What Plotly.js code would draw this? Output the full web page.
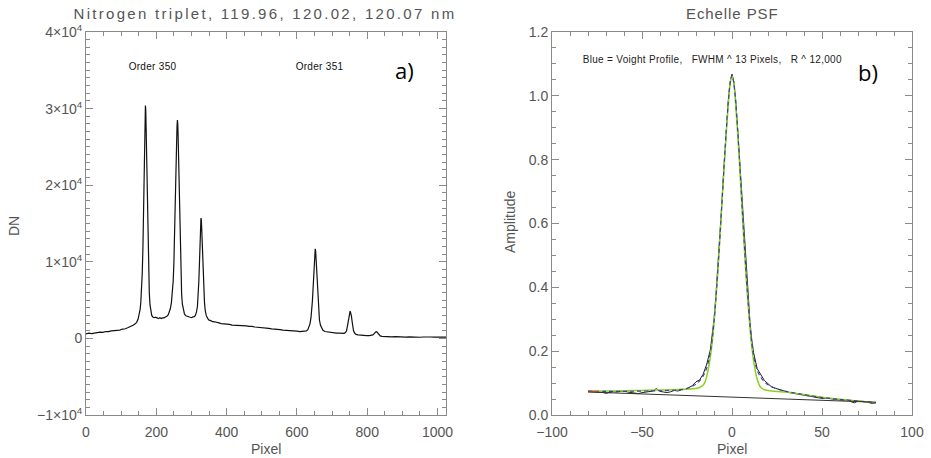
<!DOCTYPE html>
<html>
<head>
<meta charset="utf-8">
<script src="https://cdn.plot.ly/plotly-3.0.1.min.js"></script>
<style>
html,body{margin:0;padding:0;background:#fff;}
#chart{width:931px;height:458px;}
g.annotation[data-index="0"] text{letter-spacing:2.3px;}
g.annotation[data-index="1"] text{letter-spacing:0.9px;}
g.annotation[data-index="6"] text, g.annotation[data-index="7"] text, g.annotation[data-index="10"] text{letter-spacing:0.3px;}
</style>
</head>
<body>
<div id="chart"></div>
<script>
// ---- Panel a) : Nitrogen triplet spectrum ----
const specPixel = [0,8,16,24,32,40,48,56,64,72,80,88,96,104,112,120,128,134,140,144,148,151,154,156,158,160,162,164,166,168,169,170,171,172,174,176,178,180,182,184,187,190,194,198,202,206,210,214,218,222,226,230,234,237,240,243,246,248,250,252,254,256,258,259,260,261,262,264,266,268,270,272,274,277,280,284,288,292,296,300,304,308,311,314,317,319,321,323,325,326,327,328,329,331,333,335,337,339,342,346,350,355,360,366,372,378,385,392,400,408,416,424,432,440,448,456,464,472,480,488,496,504,512,520,528,536,544,552,560,568,576,584,592,600,608,616,622,627,631,634,637,640,642,644,646,648,650,651,652,653,654,656,658,660,662,664,667,670,674,680,688,696,704,712,720,728,734,738,741,743,745,747,749,751,752,753,755,757,759,761,764,768,774,782,790,798,806,812,816,819,822,825,827,830,833,837,842,850,860,870,880,890,900,910,920,930,940,950,960,970,980,990,1000,1010,1024];
const specDN = [600,680,620,740,760,830,800,900,880,980,1000,1080,1090,1220,1260,1420,1540,1720,1900,2100,2500,3000,3800,4800,6300,8500,12000,17000,22500,28000,30400,29800,27500,24500,18500,13000,8800,6000,4400,3500,3000,2800,2700,2760,2620,2580,2700,2590,2680,2680,2800,2880,3100,3400,3900,4700,6000,7500,9800,13000,17000,21500,26000,27800,28500,28000,26500,22000,16500,11500,8000,5800,4500,3600,3200,2950,2880,2780,2790,2700,2800,2830,3000,3400,4200,5500,7500,10200,13200,14800,15700,15500,14500,11800,8800,6300,4700,3700,3000,2620,2380,2320,2180,2170,2060,2020,1930,1920,1830,1820,1740,1730,1690,1700,1620,1630,1560,1580,1490,1470,1400,1400,1320,1300,1240,1230,1160,1140,1080,1070,1010,1000,950,940,890,910,930,980,1150,1450,1900,2700,3600,4900,6600,8600,10400,11200,11700,11500,10800,8800,6600,4700,3300,2400,1700,1300,1050,900,830,770,760,690,680,630,660,760,1000,1450,2100,2800,3300,3500,3480,3350,2900,2200,1500,1000,700,520,450,400,400,350,370,380,450,600,780,880,850,660,470,330,270,230,250,190,230,190,220,170,200,160,200,150,180,140,180,160,170,150,170];
const specYTicks = [-10000,0,10000,20000,30000,40000];
const specYText = ["\u22121\u00d710<sup>4</sup>","0","1\u00d710<sup>4</sup>","2\u00d710<sup>4</sup>","3\u00d710<sup>4</sup>","4\u00d710<sup>4</sup>"];
const specXTicks = [0,200,400,600,800,1000];

// ---- Panel b) : Echelle PSF ----
const psfX = [-80,-78,-76,-74,-72,-70,-68,-66,-64,-62,-60,-58,-56,-54,-52,-50,-48,-46,-44,-42,-40,-38,-36,-34,-32,-30,-28,-26,-24,-22,-20,-18,-16,-14,-12,-11,-10,-9,-8,-7,-6,-5,-4,-3,-2,-1,0,1,2,3,4,5,6,7,8,9,10,11,12,14,16,18,20,22,24,26,28,30,32,34,36,38,40,42,44,46,48,50,52,54,56,58,60,62,64,66,68,70,72,74,76,78,80];
const psfData = [0.074,0.073,0.072,0.073,0.071,0.068,0.070,0.073,0.072,0.075,0.076,0.072,0.071,0.069,0.067,0.070,0.072,0.074,0.075,0.083,0.074,0.072,0.070,0.073,0.077,0.075,0.079,0.080,0.085,0.092,0.104,0.110,0.128,0.160,0.205,0.25,0.30,0.37,0.45,0.54,0.63,0.73,0.83,0.92,0.99,1.045,1.068,1.045,0.99,0.91,0.82,0.72,0.62,0.53,0.44,0.36,0.29,0.235,0.195,0.145,0.125,0.108,0.098,0.088,0.084,0.080,0.077,0.073,0.070,0.068,0.066,0.063,0.061,0.058,0.057,0.055,0.054,0.052,0.053,0.051,0.049,0.048,0.047,0.046,0.048,0.042,0.038,0.044,0.043,0.041,0.039,0.036,0.038];
const voigtX = [-80,-70,-60,-50,-40,-35,-30,-26,-23,-20,-18,-16,-14,-12,-11,-10,-9,-8,-7,-6,-5,-4,-3,-2,-1,0,1,2,3,4,5,6,7,8,9,10,11,12,14,16,18,20,23,26,30,35,40,50,60,70,80];
const voigtY = [0.075,0.074,0.074,0.075,0.076,0.077,0.079,0.082,0.087,0.097,0.107,0.122,0.148,0.198,0.238,0.29,0.36,0.44,0.53,0.625,0.72,0.82,0.91,0.985,1.04,1.065,1.04,0.985,0.905,0.815,0.715,0.615,0.52,0.43,0.35,0.28,0.225,0.185,0.14,0.118,0.104,0.095,0.086,0.080,0.074,0.069,0.064,0.055,0.049,0.044,0.039];
const gaussX = [-80,-70,-60,-50,-40,-30,-25,-20,-18,-16,-15,-14,-13,-12,-11,-10,-9,-8,-7,-6,-5,-4,-3,-2,-1,0,1,2,3,4,5,6,7,8,9,10,11,12,13,14,15,16,18,20,25,30,40,50,60,70,80];
const gaussY = [0.074,0.075,0.076,0.077,0.078,0.080,0.081,0.083,0.086,0.094,0.103,0.122,0.148,0.183,0.228,0.288,0.358,0.438,0.528,0.622,0.718,0.812,0.9,0.975,1.04,1.062,1.04,0.975,0.895,0.805,0.705,0.605,0.51,0.42,0.342,0.272,0.215,0.17,0.136,0.112,0.096,0.086,0.079,0.077,0.074,0.072,0.064,0.056,0.049,0.044,0.038];
const redX = [-80,-74];
const redY = [0.075,0.074];
const baseX = [-80,80];
const baseY = [0.072,0.040];
const psfXTicks = [-100,-50,0,50,100];
const psfYTicks = [0,0.2,0.4,0.6,0.8,1.0,1.2];

const W = 931, H = 458;
const px = v => v / W;
const py = v => 1 - v / H;
const axCol = '#8a8a8a';
const tickFont = {family: 'Liberation Sans, Arial, sans-serif', size: 14, color: '#555'};

function axisBase(extra) {
  return Object.assign({
    showgrid: false, zeroline: false, showline: true, linecolor: axCol, linewidth: 1,
    mirror: 'ticks', ticks: 'inside', ticklen: 7, tickcolor: axCol, tickwidth: 1,
    tickfont: tickFont, automargin: false
  }, extra);
}

const traces = [
  {x: specPixel, y: specDN, type: 'scatter', mode: 'lines', line: {color: '#111', width: 1.2}, xaxis: 'x', yaxis: 'y', hoverinfo: 'skip'},
  {x: psfX, y: psfData, type: 'scatter', mode: 'lines', line: {color: '#222', width: 1}, xaxis: 'x2', yaxis: 'y2'},
  {x: gaussX, y: gaussY, type: 'scatter', mode: 'lines', line: {color: '#8cd21e', width: 1.5, shape: 'spline'}, xaxis: 'x2', yaxis: 'y2'},
  {x: voigtX, y: voigtY, type: 'scatter', mode: 'lines', line: {color: '#3a3aa8', width: 1.1, shape: 'spline', dash: '4px,3px'}, xaxis: 'x2', yaxis: 'y2'},
  {x: redX, y: redY, type: 'scatter', mode: 'lines', line: {color: '#d9542b', width: 1.2}, xaxis: 'x2', yaxis: 'y2'},
  {x: baseX, y: baseY, type: 'scatter', mode: 'lines', line: {color: '#333', width: 1}, xaxis: 'x2', yaxis: 'y2'}
];

const txt = (t, x, y, size, color, extra) => Object.assign({
  text: t, x: x, y: y, xref: 'paper', yref: 'paper', xanchor: 'center', yanchor: 'middle',
  showarrow: false, font: {family: 'Liberation Sans, Arial, sans-serif', size: size, color: color}
}, extra || {});

const layout = {
  width: W, height: H, showlegend: false,
  paper_bgcolor: '#fff', plot_bgcolor: '#fff',
  margin: {l: 0, r: 0, t: 0, b: 0},
  xaxis: axisBase({domain: [px(86), px(446)], range: [0, 1024], tickvals: specXTicks, anchor: 'y', ticklabelstandoff: 4,
    minor: {dtick: 50, tick0: 0, ticklen: 4, ticks: 'inside', tickcolor: axCol}}),
  yaxis: axisBase({domain: [py(415), py(32)], range: [-10000, 40000], tickvals: specYTicks, ticktext: specYText, anchor: 'x',
    minor: {dtick: 1000, tick0: 0, ticklen: 4, ticks: 'inside', tickcolor: axCol}}),
  xaxis2: axisBase({domain: [px(552), px(912)], range: [-100, 100], tickvals: psfXTicks, anchor: 'y2', ticklabelstandoff: 4,
    minor: {dtick: 10, tick0: 0, ticklen: 4, ticks: 'inside', tickcolor: axCol}}),
  yaxis2: axisBase({domain: [py(415), py(32)], range: [0, 1.2], tickvals: psfYTicks, tickformat: '.1f', anchor: 'x2',
    minor: {dtick: 0.05, tick0: 0, ticklen: 4, ticks: 'inside', tickcolor: axCol}}),
  annotations: [
    txt('Nitrogen triplet, 119.96, 120.02, 120.07 nm', px(265), py(13), 15, '#555'),
    txt('Echelle PSF', px(732), py(13), 15, '#555'),
    txt('Pixel', px(266), py(449), 14, '#555'),
    txt('Pixel', px(732), py(449), 14, '#555'),
    txt('DN', px(14), py(226), 14, '#555', {textangle: -90}),
    txt('Amplitude', px(510), py(222), 14, '#555', {textangle: -90}),
    txt('Order 350', px(152), py(67), 10, '#111'),
    txt('Order 351', px(319), py(67), 10, '#111'),
    txt('a)', px(404), py(70), 22, '#000', {font: {family: 'Open Sans, sans-serif', size: 22, color: '#000'}}),
    txt('b)', px(868), py(72), 22, '#000', {font: {family: 'Open Sans, sans-serif', size: 22, color: '#000'}}),
    txt('Blue = Voight Profile,   FWHM ^ 13 Pixels,   R ^ 12,000', px(712), py(60), 10, '#222')
  ]
};

Plotly.newPlot('chart', traces, layout, {staticPlot: true, displayModeBar: false});
</script>
</body>
</html>
